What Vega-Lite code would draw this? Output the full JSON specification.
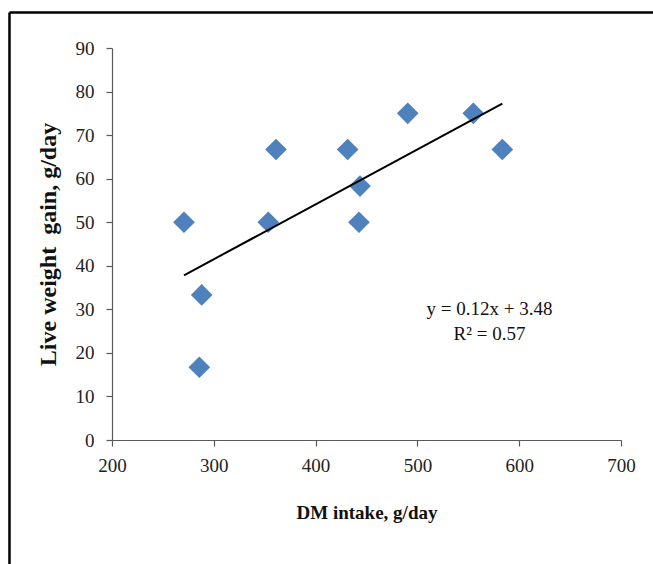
{
  "$schema": "https://vega.github.io/schema/vega-lite/v6.json",
  "width": 509,
  "height": 392,
  "autosize": {"type": "none"},
  "padding": {"left": 112, "top": 48, "right": 32, "bottom": 124},
  "background": "white",
  "config": {
    "view": {"stroke": null},
    "font": "Liberation Serif",
    "axis": {
      "grid": false,
      "domainColor": "#595959",
      "domainWidth": 1.2,
      "tickColor": "#595959",
      "tickSize": 6,
      "tickWidth": 1.2,
      "labelFont": "Liberation Serif",
      "labelFontSize": 19,
      "labelColor": "#222222",
      "titleFont": "Liberation Serif",
      "titleFontWeight": "bold",
      "titleColor": "#111111"
    }
  },
  "datasets": {
    "points": [
      {"x": 270.7, "y": 50},
      {"x": 288.1, "y": 33.3},
      {"x": 285.8, "y": 16.7},
      {"x": 353.5, "y": 50},
      {"x": 361.1, "y": 66.7},
      {"x": 431.5, "y": 66.7},
      {"x": 443.6, "y": 58.3},
      {"x": 442.6, "y": 50},
      {"x": 490.5, "y": 75},
      {"x": 554.9, "y": 75},
      {"x": 583.4, "y": 66.7}
    ],
    "labels": [
      {"x": 570.8, "y": 30.1, "text": "y = 0.12x + 3.48"},
      {"x": 570.8, "y": 24.3, "text": "R² = 0.57"}
    ]
  },
  "layer": [
    {
      "data": {"name": "points"},
      "mark": {"type": "point", "shape": "diamond", "filled": true, "size": 470, "color": "#4F81BD", "opacity": 1},
      "encoding": {
        "x": {
          "field": "x", "type": "quantitative",
          "scale": {"domain": [200, 700], "nice": false, "zero": false},
          "axis": {"values": [200, 300, 400, 500, 600, 700], "title": "DM intake, g/day", "titleFontSize": 19, "titlePadding": 28, "labelPadding": 10, "labelFlush": false}
        },
        "y": {
          "field": "y", "type": "quantitative",
          "scale": {"domain": [0, 90], "nice": false},
          "axis": {"values": [0, 10, 20, 30, 40, 50, 60, 70, 80, 90], "title": "Live weight\u00a0 gain, g/day", "titleFontSize": 24, "titlePadding": 15, "labelPadding": 12}
        }
      }
    },
    {
      "data": {"name": "points"},
      "transform": [{"regression": "y", "on": "x"}],
      "mark": {"type": "line", "color": "#000000", "strokeWidth": 2},
      "encoding": {
        "x": {"field": "x", "type": "quantitative", "scale": {"domain": [200, 700]}},
        "y": {"field": "y", "type": "quantitative", "scale": {"domain": [0, 90]}}
      }
    },
    {
      "data": {"name": "labels"},
      "mark": {"type": "text", "font": "Liberation Serif", "fontSize": 19, "color": "#111111", "align": "center", "baseline": "middle"},
      "encoding": {
        "x": {"field": "x", "type": "quantitative", "scale": {"domain": [200, 700]}},
        "y": {"field": "y", "type": "quantitative", "scale": {"domain": [0, 90]}},
        "text": {"field": "text"}
      }
    },
    {
      "data": {"values": [{}]},
      "mark": {"type": "rule", "color": "#000000", "strokeWidth": 2.5},
      "encoding": {
        "x": {"datum": 99.3, "type": "quantitative", "scale": {"domain": [200, 700]}},
        "y": {"datum": 98.15, "type": "quantitative", "scale": {"domain": [0, 90]}},
        "y2": {"datum": -30}
      }
    },
    {
      "data": {"values": [{}]},
      "mark": {"type": "rule", "color": "#000000", "strokeWidth": 2.5},
      "encoding": {
        "x": {"datum": 99.3, "type": "quantitative", "scale": {"domain": [200, 700]}},
        "x2": {"datum": 740},
        "y": {"datum": 98.15, "type": "quantitative", "scale": {"domain": [0, 90]}}
      }
    }
  ]
}
